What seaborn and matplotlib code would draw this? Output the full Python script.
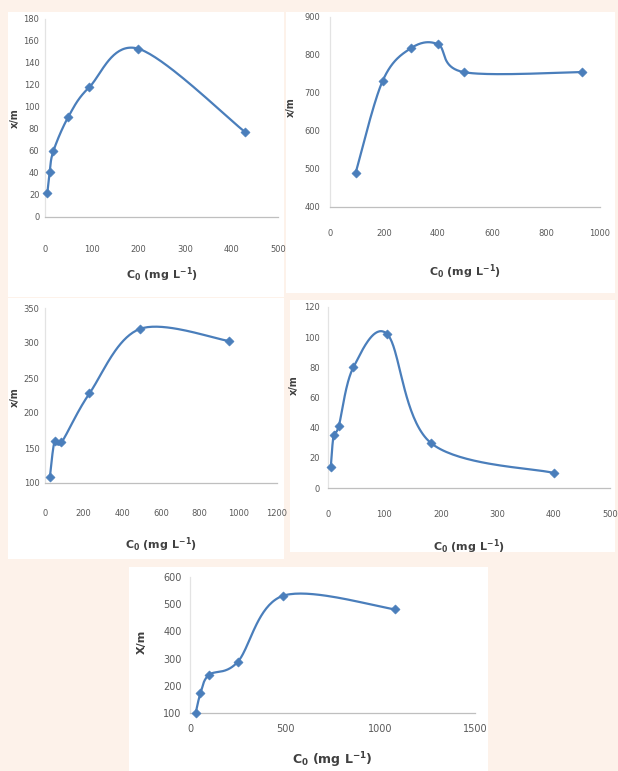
import numpy as np
import matplotlib
matplotlib.use("Agg")
import matplotlib.pyplot as plt
from matplotlib.patches import Rectangle
import seaborn as sns

# data (C0 vs x/m)
c0_a = [5, 10, 18, 50, 95, 200, 430]
xm_a = [22, 41, 60, 91, 118, 153, 77]

c0_b = [95, 195, 300, 400, 495, 935]
xm_b = [490, 732, 818, 828, 755, 755]

c0_c = [25, 50, 85, 230, 490, 950]
xm_c = [108, 160, 158, 228, 320, 303]

c0_d = [5, 10, 19, 45, 105, 182, 400]
xm_d = [14, 35, 41, 80, 102, 30, 10]

c0_e = [30, 55, 100, 250, 490, 1080]
xm_e = [100, 172, 240, 287, 531, 481]

W, H = 618, 771
BLUE = "#4A7EBB"
BG = "#FDF2EA"

sns.set_style("white")
plt.rcParams['font.family'] = ['Liberation Sans Narrow', 'DejaVu Sans']
plt.rcParams['mathtext.default'] = 'regular'

fig = plt.figure(figsize=(W / 100, H / 100), dpi=100, facecolor=BG)


def smooth(x, y, n=40):
    # excel style smoothed line (bezier through the points)
    p = np.column_stack([x, y]).astype(float)
    out = []
    t = np.linspace(0, 1, n)[:, None]
    for i in range(len(p) - 1):
        p0 = p[i - 1] if i > 0 else p[i]
        p1, p2 = p[i], p[i + 1]
        p3 = p[i + 2] if i + 2 < len(p) else p[i + 1]
        c1 = p1 + (p2 - p0) / 6
        c2 = p2 - (p3 - p1) / 6
        seg = (1 - t) ** 3 * p1 + 3 * (1 - t) ** 2 * t * c1 + 3 * (1 - t) * t ** 2 * c2 + t ** 3 * p2
        out.append(seg if i == 0 else seg[1:])
    out = np.vstack(out)
    return out[:, 0], out[:, 1]


def panel(box, area, x, y, xlim, ylim, xticks, yticks, ylab, xlab_y, ylab_xy,
          xpad, ypad, fs=6, lfs=8, yfs=7):
    bx0, by0, bx1, by1 = box
    fig.patches.append(Rectangle((bx0 / W, 1 - by1 / H), (bx1 - bx0) / W, (by1 - by0) / H,
                                 transform=fig.transFigure, facecolor="white",
                                 edgecolor="none", zorder=-5))
    ax0, ay0, ax1, ay1 = area
    ax = fig.add_axes([ax0 / W, 1 - ay1 / H, (ax1 - ax0) / W, (ay1 - ay0) / H])
    ax.set_facecolor("none")
    sx, sy = smooth(x, y)
    sns.lineplot(x=sx, y=sy, sort=False, estimator=None, color=BLUE, lw=1.6, ax=ax)
    sns.scatterplot(x=x, y=y, marker="D", s=22, color=BLUE, edgecolor=BLUE, ax=ax,
                    zorder=3, clip_on=False)
    ax.set_xlim(xlim)
    ax.set_ylim(ylim)
    ax.set_xticks(xticks)
    ax.set_yticks(yticks)
    ax.tick_params(axis="x", length=0, pad=xpad, labelsize=fs, labelcolor="#595959")
    ax.tick_params(axis="y", length=0, pad=ypad, labelsize=fs, labelcolor="#595959")
    for s in ["top", "right"]:
        ax.spines[s].set_visible(False)
    ax.spines["bottom"].set_color("#BFBFBF")
    ax.spines["left"].set_color("#E3E3E3")
    ax.spines["bottom"].set_linewidth(0.9)
    ax.spines["left"].set_linewidth(0.9)
    ax.set_xlabel("")
    ax.set_ylabel("")
    cx = (ax0 + ax1) / 2
    fig.text(cx / W, 1 - xlab_y / H, r"C$_0$ (mg L$^{-1}$)", ha="center", va="center",
             fontsize=lfs, fontweight="bold", color="#404040")
    fig.text(ylab_xy[0] / W, 1 - ylab_xy[1] / H, ylab, ha="center", va="center",
             rotation=90, fontsize=yfs, fontweight="bold", color="#404040")
    return ax


panel((8, 12, 284, 297), (45, 19, 278, 217), c0_a, xm_a, (0, 500), (0, 180),
      range(0, 501, 100), range(0, 181, 20), "x/m", 275, (15, 118), 20, 4)

panel((286, 12, 615, 293), (330, 17, 600, 207), c0_b, xm_b, (0, 1000), (400, 900),
      range(0, 1001, 200), range(400, 901, 100), "x/m", 272, (291, 107), 16, 7)

panel((8, 298, 284, 559), (45, 308, 277, 483), c0_c, xm_c, (0, 1200), (100, 350),
      range(0, 1201, 200), range(100, 351, 50), "x/m", 545, (15, 397), 19, 4)

panel((290, 300, 615, 552), (328, 307, 610, 488), c0_d, xm_d, (0, 500), (0, 120),
      range(0, 501, 100), range(0, 121, 20), "x/m", 547, (294, 385), 16, 6)

panel((129, 567, 488, 771), (190, 577, 475, 713), c0_e, xm_e, (0, 1500), (100, 600),
      range(0, 1501, 500), range(100, 601, 100), "X/m", 760, (142, 642), 8, 6,
      fs=7, lfs=9, yfs=8)

fig.savefig("out.png", dpi=100, facecolor=BG)
